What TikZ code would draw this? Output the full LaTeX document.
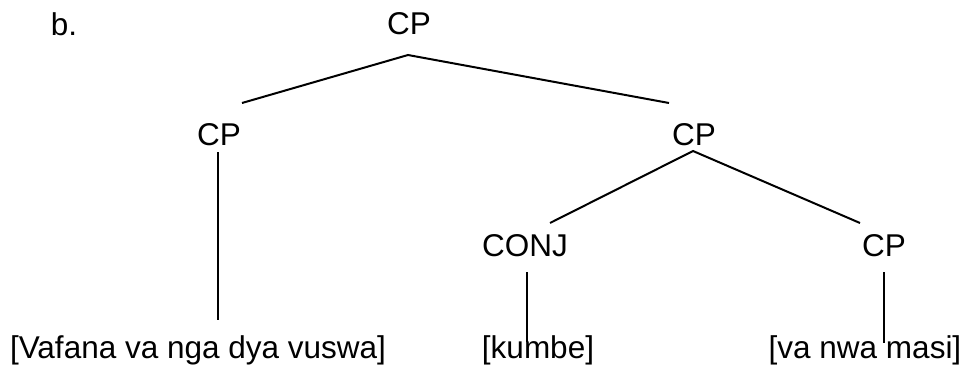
\documentclass[tikz,border=0pt]{standalone}
\usepackage{fontspec}
\setmainfont{Liberation Sans}
\usetikzlibrary{calc}
\begin{document}
\begin{tikzpicture}[x=1pt,y=-1pt,
  lbl/.style={anchor=base,inner sep=0pt,font=\fontsize{31.5}{37}\selectfont},
  edge/.style={line width=2pt,black}]
\useasboundingbox (0,0) rectangle (964,375);
\node[lbl] (b) at (64,35) {b.};
\node[lbl] (top) at (409,34) {CP};
\node[lbl] (L) at (219,145) {CP};
\node[lbl] (R) at (694,145) {CP};
\node[lbl] (conj) at (525,256) {CONJ};
\node[lbl] (cp2) at (884,256) {CP};
\node[lbl] (t1) at (198,358) {[Vafana va nga dya vuswa]};
\node[lbl] (t2) at (538,358) {[kumbe]};
\node[lbl] (t3) at (865,358) {[va nwa masi]};
\draw[edge] ($(L.base)+(23,-42)$) -- ($(top.base)+(-1,21)$) -- ($(R.base)+(-25,-42)$);
\draw[edge] ($(L.base)+(-1,7)$) -- ($(t1.base)+(20,-38)$);
\draw[edge] ($(conj.base)+(25,-33)$) -- ($(R.base)+(-1,6)$) -- ($(cp2.base)+(-24,-33)$);
\draw[edge] ($(conj.base)+(2,16)$) -- ($(t2.base)+(-11,-16)$);
\draw[edge] ($(cp2.base)+(0,16)$) -- ($(t3.base)+(19,-15)$);
\end{tikzpicture}
\end{document}
